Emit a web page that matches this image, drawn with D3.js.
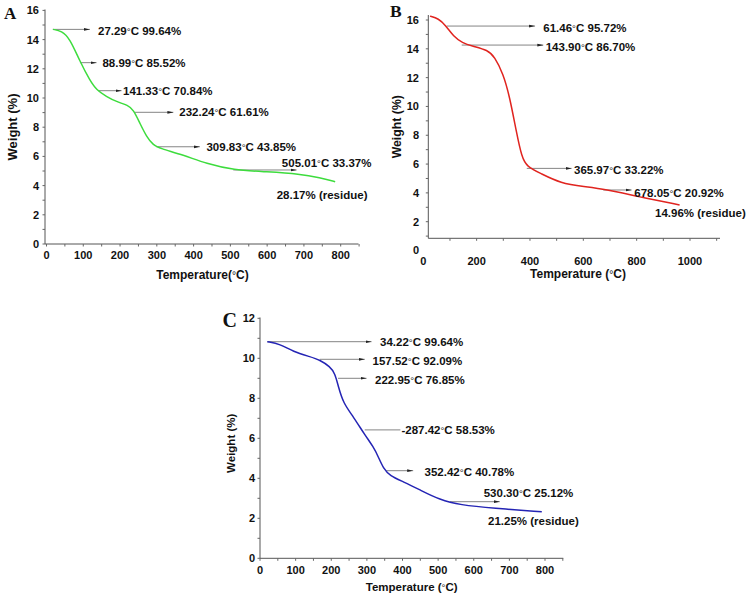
<!DOCTYPE html>
<html>
<head>
<meta charset="utf-8">
<script src="https://cdn.jsdelivr.net/npm/d3@7/dist/d3.min.js"></script>
<style>
  html, body { margin: 0; padding: 0; background: #fff; }
  svg { display: block; }
  text { font-family: "Liberation Sans", Arial, sans-serif; font-weight: bold; fill: #111; }
  text.letter { font-family: "Liberation Serif", "Times New Roman", serif; }
</style>
</head>
<body>
<svg id="chart" width="750" height="598"></svg>
<script>
// ---------- Data (temperature °C, weight %) ----------
const aTemp   = [18, 41, 63, 91, 118, 136, 163, 190, 222, 236, 254, 272, 290, 308, 372, 435, 508, 599, 689, 744, 785];
const aWeight = [14.7, 14.6, 14.1, 12.5, 11.2, 10.55, 10.1, 9.75, 9.5, 9.2, 8.27, 7.35, 6.78, 6.55, 6.1, 5.5, 5.07, 4.95, 4.8, 4.54, 4.27];

const bTemp   = [25, 57, 83, 114, 146, 184, 242, 267, 299, 324, 350, 369, 388, 439, 515, 604, 681, 808, 961];
const bWeight = [16.27, 16.1, 15.65, 14.84, 14.42, 14.19, 13.91, 13.45, 12.3, 10.67, 8.13, 6.5, 5.82, 5.36, 4.66, 4.43, 4.25, 3.73, 3.16];

const cTemp   = [20.6, 56, 93.5, 140, 168, 196.5, 210.5, 220, 234, 262, 295, 318, 332, 346, 365, 402, 449, 505, 561, 655, 791];
const cWeight = [10.83, 10.72, 10.33, 10.08, 9.92, 9.58, 9.25, 8.58, 7.75, 7.08, 6.15, 5.58, 5.08, 4.5, 4.12, 3.83, 3.42, 2.92, 2.67, 2.5, 2.33];

// Tick labels
const aXTicks = [0, 100, 200, 300, 400, 500, 600, 700, 800];
const aYTicks = [0, 2, 4, 6, 8, 10, 12, 14, 16];
const bXTicks = [0, 200, 400, 600, 800, 1000];
const bYTicks = [0, 2, 4, 6, 8, 10, 12, 14, 16];
const cXTicks = [0, 100, 200, 300, 400, 500, 600, 700, 800];
const cYTicks = [0, 2, 4, 6, 8, 10, 12];

// Annotations: label, arrow from t1 to t2 at weight w, text anchored at (tx, tw) in data units
const aNotes = [
  { label: "27.29°C 99.64%",  t1: 17,  t2: 118, w: 14.7,  tx: 140, tw: 14.62 },
  { label: "88.99°C 85.52%",  t1: 91,  t2: 136, w: 12.42, tx: 152, tw: 12.42 },
  { label: "141.33°C 70.84%", t1: 140, t2: 204, w: 10.5,  tx: 208, tw: 10.5 },
  { label: "232.24°C 61.61%", t1: 240, t2: 345, w: 9.02,  tx: 361, tw: 9.02 },
  { label: "309.83°C 43.85%", t1: 299, t2: 417, w: 6.66,  tx: 435, tw: 6.66 },
  { label: "505.01°C 33.37%", t1: 508, t2: 680, w: 5.07,  tx: 640, tw: 5.53 },
  { label: "28.17% (residue)", tx: 626, tw: 3.40 }
];
const bNotes = [
  { label: "61.46°C 95.72%",   t1: 88,  t2: 419, w: 15.58, tx: 450, tw: 15.42 },
  { label: "143.90°C 86.70%",  t1: 144, t2: 450, w: 14.26, tx: 459, tw: 14.14 },
  { label: "365.97°C 33.22%",  t1: 388, t2: 556, w: 5.70,  tx: 565, tw: 5.63 },
  { label: "678.05°C 20.92%",  t1: 675, t2: 781, w: 4.20,  tx: 791, tw: 4.01 },
  { label: "14.96% (residue)", tx: 869, tw: 2.58 }
];
const cNotes = [
  { label: "34.22°C 99.64%",   t1: 20.5, t2: 313, w: 10.83, tx: 337, tw: 10.8 },
  { label: "157.52°C 92.09%",  t1: 168,  t2: 294, w: 9.95,  tx: 316, tw: 9.88 },
  { label: "222.95°C 76.85%",  t1: 219,  t2: 299, w: 9.0,   tx: 323, tw: 8.92 },
  { label: "-287.42°C 58.53%", t1: 294,  t2: 394, w: 6.42,  tx: 397, tw: 6.42, noHead: true },
  { label: "352.42°C 40.78%",  t1: 355,  t2: 430, w: 4.38,  tx: 462, tw: 4.33 },
  { label: "530.30°C 25.12%",  t1: 533,  t2: 673, w: 2.83,  tx: 628, tw: 3.25 },
  { label: "21.25% (residue)", tx: 640, tw: 1.88 }
];

// ---------- Drawing ----------
const svg = d3.select("#chart");
svg.append("defs").append("marker")
  .attr("id", "head").attr("viewBox", "0 0 6 4")
  .attr("refX", 6).attr("refY", 2)
  .attr("markerWidth", 6).attr("markerHeight", 4)
  .attr("markerUnits", "userSpaceOnUse").attr("orient", "auto")
  .append("path").attr("d", "M0,0.6 L6,2 L0,3.4 Z").attr("fill", "#222");

function addLabel(sel, str) {
  const parts = str.split("°");
  parts.forEach((p, i) => {
    if (i > 0) sel.append("tspan").attr("font-weight", "normal").attr("font-size", "0.85em").text("°");
    sel.append("tspan").text(p);
  });
}

function panel(cfg) {
  const g = svg.append("g");
  const x = d3.scaleLinear().domain(cfg.xDomain).range(cfg.xRange);
  const y = d3.scaleLinear().domain(cfg.yDomain).range(cfg.yRange);
  const axisY = cfg.axisY !== undefined ? cfg.axisY : y(0);
  const x0 = cfg.axisX0, x1 = cfg.axisX1;

  g.append("line").attr("x1", x0).attr("x2", x1).attr("y1", axisY).attr("y2", axisY)
    .attr("stroke", "#555").attr("stroke-width", 1);
  g.append("line").attr("x1", x0).attr("x2", x0).attr("y1", axisY).attr("y2", cfg.axisTop)
    .attr("stroke", "#555").attr("stroke-width", 1);

  cfg.xMinor.forEach(t => {
    g.append("line").attr("x1", x(t)).attr("x2", x(t)).attr("y1", axisY).attr("y2", axisY + 2.5)
      .attr("stroke", "#666").attr("stroke-width", 1);
  });
  cfg.yMinor.forEach(v => {
    g.append("line").attr("x1", x0).attr("x2", x0 - 2.5).attr("y1", y(v)).attr("y2", y(v))
      .attr("stroke", "#666").attr("stroke-width", 1);
  });

  cfg.xTicks.forEach(t => {
    g.append("text").attr("x", x(t)).attr("y", cfg.xLabelY).attr("text-anchor", "middle")
      .attr("font-size", 11).text(t);
  });
  cfg.yTicks.forEach(v => {
    g.append("text").attr("x", cfg.yLabelX).attr("y", y(v)).attr("dy", "0.36em")
      .attr("text-anchor", "end").attr("font-size", 11).text(v);
  });

  const xt = g.append("text").attr("x", cfg.xTitle[0]).attr("y", cfg.xTitle[1])
    .attr("text-anchor", "middle").attr("font-size", cfg.xTitleSize);
  addLabel(xt, cfg.xTitleText);
  g.append("text").attr("transform", `translate(${cfg.yTitle[0]},${cfg.yTitle[1]}) rotate(-90)`)
    .attr("dy", "0.36em").attr("text-anchor", "middle").attr("font-size", cfg.yTitleSize)
    .text("Weight (%)");

  g.append("text").attr("class", "letter").attr("x", cfg.letterPos[0]).attr("y", cfg.letterPos[1])
    .attr("font-size", cfg.letterSize).text(cfg.letter);

  cfg.notes.filter(n => n.t1 !== undefined).forEach(n => {
    const l = g.append("line").attr("x1", x(n.t1)).attr("x2", x(n.t2))
      .attr("y1", y(n.w)).attr("y2", y(n.w))
      .attr("stroke", "#777").attr("stroke-width", 0.9);
    if (!n.noHead) l.attr("marker-end", "url(#head)");
  });

  const data = cfg.temp.map((t, i) => [t, cfg.weight[i]]);
  g.append("path").datum(data)
    .attr("d", d3.line().x(d => x(d[0])).y(d => y(d[1])).curve(d3.curveBasis))
    .attr("fill", "none").attr("stroke", cfg.color).attr("stroke-width", 1.5);

  cfg.notes.forEach(n => {
    const t = g.append("text").attr("x", x(n.tx)).attr("y", y(n.tw)).attr("dy", "0.36em")
      .attr("font-size", 11.5);
    addLabel(t, n.label);
  });
}

panel({
  temp: aTemp, weight: aWeight, color: "#3ddc3d", notes: aNotes,
  xDomain: [0, 800], xRange: [46.5, 340.7], yDomain: [0, 16], yRange: [244, 10.4],
  axisX0: 45, axisX1: 358.5, axisTop: 9.5,
  xMinor: d3.range(0, 851, 50), yMinor: d3.range(0, 17, 1),
  xTicks: aXTicks, yTicks: aYTicks, xLabelY: 259, yLabelX: 39,
  xTitle: [202.5, 279], xTitleSize: 12, xTitleText: "Temperature(°C)",
  yTitle: [12, 127], yTitleSize: 13,
  letter: "A", letterPos: [4, 18.5], letterSize: 17
});

panel({
  temp: bTemp, weight: bWeight, color: "#e0241f", notes: bNotes,
  xDomain: [0, 1000], xRange: [423.3, 690], yDomain: [0, 16], yRange: [250.5, 20],
  axisY: 238.3, axisX0: 428.3, axisX1: 720, axisTop: 15,
  xMinor: d3.range(100, 1101, 100), yMinor: d3.range(1, 17, 1),
  xTicks: bXTicks, yTicks: bYTicks, xLabelY: 265, yLabelX: 419,
  xTitle: [578, 278], xTitleSize: 12, xTitleText: "Temperature (°C)",
  yTitle: [396.7, 126.7], yTitleSize: 12.3,
  letter: "B", letterPos: [390, 16.7], letterSize: 17.5
});

panel({
  temp: cTemp, weight: cWeight, color: "#2424b4", notes: cNotes,
  xDomain: [0, 800], xRange: [260, 545], yDomain: [0, 12], yRange: [558.3, 318.3],
  axisX0: 260, axisX1: 563.3, axisTop: 317.5,
  xMinor: d3.range(0, 851, 50), yMinor: d3.range(0, 13, 1),
  xTicks: cXTicks, yTicks: cYTicks, xLabelY: 574, yLabelX: 255,
  xTitle: [411.7, 591], xTitleSize: 11.5, xTitleText: "Temperature (°C)",
  yTitle: [230.7, 443.3], yTitleSize: 11.5,
  letter: "C", letterPos: [222.5, 326.7], letterSize: 20
});
</script>
</body>
</html>
